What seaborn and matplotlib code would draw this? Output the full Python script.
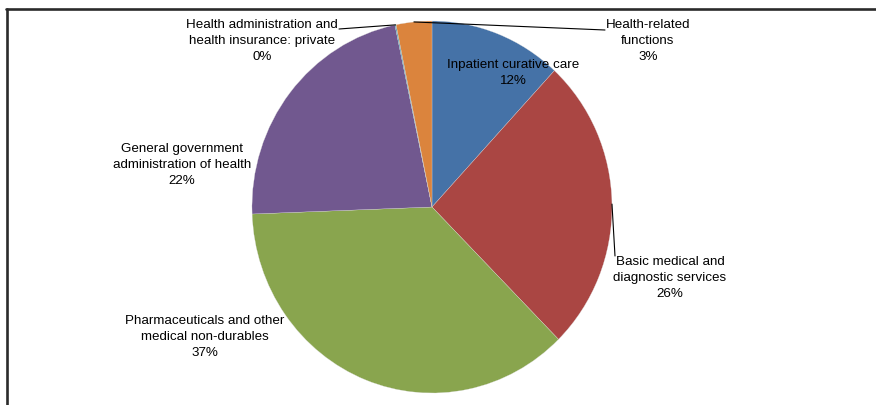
import matplotlib.pyplot as plt
import seaborn as sns
import numpy as np
from matplotlib.lines import Line2D

# данные
categories = ['Inpatient curative care',
              'Basic medical and\ndiagnostic services',
              'Pharmaceuticals and other\nmedical non-durables',
              'General government\nadministration of health',
              'Health administration and\nhealth insurance: private',
              'Health-related\nfunctions']
shares = [11.9, 25.7, 36.8, 22.3, 0.1, 3.2]
colors = ['#4572A7', '#AA4643', '#89A54E', '#71588F', '#4198AF', '#DB843D']

sns.set_theme(style='white')
plt.rcParams['font.family'] = ['Liberation Sans', 'DejaVu Sans']

W, H = 876, 405
cx, cy, rx, ry = 432, 207, 180, 186


def px(x, y):
    # пиксели -> координаты осей (радиус круга = 1)
    return (x - cx) / rx, (cy - y) / ry


fig = plt.figure(figsize=(W / 100, H / 100), dpi=100)
ax = fig.add_axes([0, 0, 1, 1])

wedges, _ = ax.pie(shares, colors=sns.color_palette(colors), startangle=90,
                   counterclock=False, radius=1,
                   wedgeprops=dict(edgecolor='#dddddd', linewidth=0.2))
ax.set_aspect('auto')
ax.set_xlim(-cx / rx, (W - cx) / rx)
ax.set_ylim(-(H - cy) / ry, cy / ry)
ax.axis('off')

# подписи
label_pos = [(513, 73), (670, 278), (205, 337), (182, 165), (262, 41), (648, 41)]
for name, v, (lx, ly) in zip(categories, shares, label_pos):
    x, y = px(lx, ly)
    ax.text(x, y, f'{name}\n{round(v)}%', ha='center', va='center',
            fontsize=9.6, linespacing=1.42, color='black')

# линии-выноски
leaders = {1: (615, 256), 4: (339, 29), 5: (605, 30)}
for i, (ex, ey) in leaders.items():
    w = wedges[i]
    a = np.deg2rad((w.theta1 + w.theta2) / 2)
    x0, y0 = np.cos(a), np.sin(a)
    x1, y1 = px(ex, ey)
    ax.plot([x0, x1], [y0, y1], color='black', lw=0.8)

# рамка
fig.add_artist(Line2D([6 / W, 1], [1 - 8.5 / H, 1 - 8.5 / H], color='#2b2b2b', lw=1.9,
                      transform=fig.transFigure))
fig.add_artist(Line2D([7 / W, 7 / W], [0, 1 - 8.5 / H], color='#2b2b2b', lw=1.9,
                      transform=fig.transFigure))

fig.savefig('out.png', dpi=100)
